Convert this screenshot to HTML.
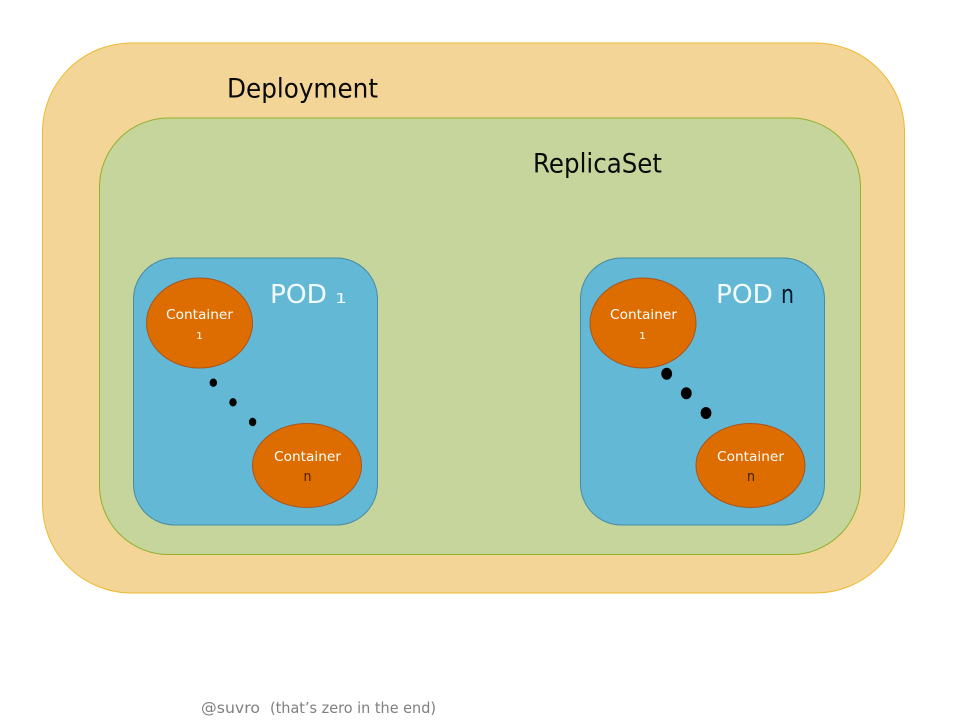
<!DOCTYPE html>
<html>
<head>
<meta charset="utf-8">
<style>
html,body{margin:0;padding:0;background:#fff;width:958px;height:721px;overflow:hidden}
svg{display:block}
text{font-family:"DejaVu Sans","Liberation Sans",sans-serif}
</style>
</head>
<body>
<svg width="958" height="721" viewBox="0 0 958 721" xmlns="http://www.w3.org/2000/svg">
<rect x="42.5" y="43" width="862" height="550" rx="89" ry="89" fill="#f4d598" stroke="#edb92f" stroke-width="1"/>
<rect x="99.5" y="118" width="761" height="436.5" rx="69" ry="69" fill="#c5d59c" stroke="#92b02a" stroke-width="1"/>
<rect x="133.5" y="258" width="244" height="267" rx="41" ry="41" fill="#62b8d5" stroke="#4a8aa3" stroke-width="1"/>
<rect x="580.5" y="258" width="244" height="267" rx="41" ry="41" fill="#62b8d5" stroke="#4a8aa3" stroke-width="1"/>

<ellipse cx="199.5" cy="323" rx="53" ry="45" fill="#dd6d00" stroke="#a9541b"/>
<ellipse cx="307" cy="465.5" rx="54.5" ry="42" fill="#dd6d00" stroke="#a9541b"/>
<ellipse cx="643" cy="323" rx="53" ry="45" fill="#dd6d00" stroke="#a9541b"/>
<ellipse cx="750.5" cy="465.5" rx="54.5" ry="42" fill="#dd6d00" stroke="#a9541b"/>

<ellipse cx="213.3" cy="382.7" rx="3.7" ry="4.2" fill="#000"/>
<ellipse cx="233" cy="402.3" rx="3.7" ry="4.2" fill="#000"/>
<ellipse cx="252.6" cy="422" rx="3.7" ry="4.2" fill="#000"/>
<ellipse cx="666.7" cy="373.7" rx="5.4" ry="6" fill="#000"/>
<ellipse cx="686.3" cy="393.3" rx="5.4" ry="6" fill="#000"/>
<ellipse cx="706" cy="413" rx="5.4" ry="6" fill="#000"/>

<text x="227" y="97.500" font-size="27" fill="#0a0a0a" textLength="151" lengthAdjust="spacingAndGlyphs">Deployment</text>
<text x="533" y="172.500" font-size="27" fill="#0a0a0a" textLength="129" lengthAdjust="spacingAndGlyphs">ReplicaSet</text>

<text x="270" y="303" font-size="26" fill="#f2fbff" textLength="57" lengthAdjust="spacingAndGlyphs">POD</text>
<text x="335" y="303" font-size="13" fill="#f2fbff" textLength="12" lengthAdjust="spacingAndGlyphs">1</text>
<text x="716" y="303" font-size="26" fill="#f2fbff" textLength="57" lengthAdjust="spacingAndGlyphs">POD</text>
<text x="781" y="303" font-size="26" fill="#06162a" textLength="13" lengthAdjust="spacingAndGlyphs">n</text>

<text x="166" y="319" font-size="13.500" fill="#fff" textLength="67" lengthAdjust="spacingAndGlyphs">Container</text>
<text x="196" y="339" font-size="9.500" fill="#fff" textLength="7" lengthAdjust="spacingAndGlyphs">1</text>
<text x="274" y="461" font-size="13.500" fill="#fff" textLength="67" lengthAdjust="spacingAndGlyphs">Container</text>
<text x="303.500" y="481" font-size="14" fill="#4a1a00" textLength="8" lengthAdjust="spacingAndGlyphs">n</text>

<text x="610" y="319" font-size="13.500" fill="#fff" textLength="67" lengthAdjust="spacingAndGlyphs">Container</text>
<text x="639" y="339" font-size="9.500" fill="#fff" textLength="7" lengthAdjust="spacingAndGlyphs">1</text>
<text x="717" y="461" font-size="13.500" fill="#fff" textLength="67" lengthAdjust="spacingAndGlyphs">Container</text>
<text x="747" y="481" font-size="14" fill="#3a1c08" textLength="8" lengthAdjust="spacingAndGlyphs">n</text>

<text x="201" y="713" font-size="15" fill="#7f7f7f" textLength="59" lengthAdjust="spacingAndGlyphs">@suvro</text>
<text x="270" y="713" font-size="15" fill="#7f7f7f" textLength="166" lengthAdjust="spacingAndGlyphs">(that’s zero in the end)</text>
</svg>
</body>
</html>
